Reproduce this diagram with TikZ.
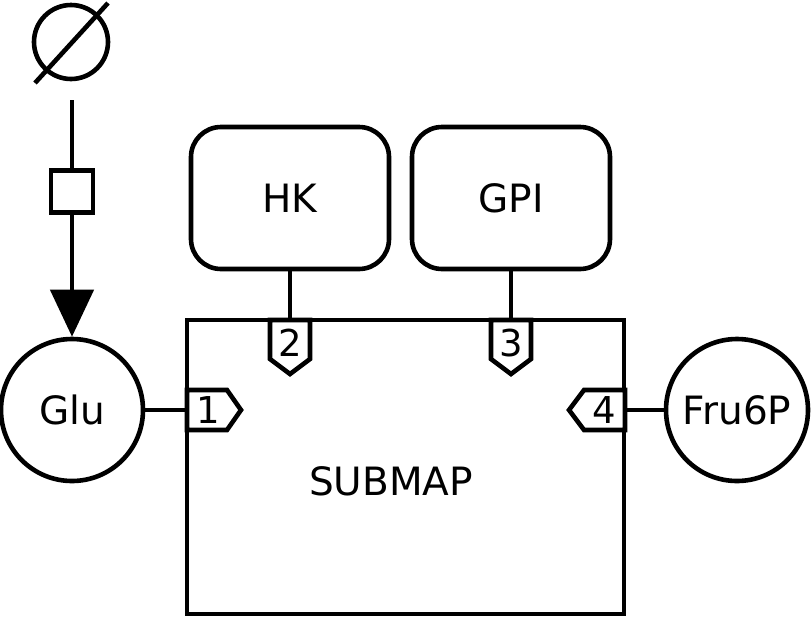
\documentclass[tikz,border=0pt]{standalone}
\usepackage{fontspec}
\setmainfont{DejaVu Sans}
\usetikzlibrary{arrows.meta}
\begin{document}
\begin{tikzpicture}[x=1pt,y=-1pt, line width=4.6pt,
  lbl/.style={font=\fontsize{39}{47}\selectfont},
  species/.style={circle, draw, minimum size=142pt, inner sep=0pt, lbl},
  enzyme/.style={draw, rounded corners=30pt, minimum width=198pt, minimum height=142pt, inner sep=0pt, lbl},
  submapbox/.style={draw, minimum width=437pt, minimum height=294pt, inner sep=0pt},
  procbox/.style={draw, fill=white, minimum size=42pt, inner sep=0pt},
  tagshape/.style={draw, fill=white, line join=miter},
  taglbl/.style={font=\fontsize{37}{44}\selectfont, inner sep=0pt},
  conn/.style={line width=4.6pt}]
\useasboundingbox (0,0) rectangle (811,619);

% SUBMAP
\node[submapbox] (sub) at (405.5,467) {};
\node[lbl] (subtext) at (391,481) {SUBMAP};

% enzymes
\node[enzyme] (hk) at (290,198) {HK};
\node[enzyme] (gpi) at (511,198) {GPI};

% species
\node[species] (glu) at (72,410) {Glu};
\node[species] (fru) at (737,410) {Fru6P};

% empty set source
\node[circle, draw, minimum size=74pt, inner sep=0pt] (src) at (71,42) {};
\coordinate (slashA) at (35,83);
\coordinate (slashB) at (108,3);
\draw (slashA) -- (slashB);

% process
\coordinate (pstart) at (72,100);
\node[procbox] (proc) at (72,191.5) {};
\draw[conn] (pstart) -- (proc.north);
\draw[conn, -{Triangle[width=43pt,length=47pt]}] (proc.south) -- (glu.north);

% tag 1 (west)
\draw[tagshape] (187,390) -- (227,390) -- (241,410) -- (227,430) -- (187,430) -- cycle;
\node[taglbl] (t1) at (208,410) {1};
% tag 2 (north)
\draw[tagshape] (270,320) -- (310,320) -- (310,359) -- (290,374) -- (270,359) -- cycle;
\node[taglbl] (t2) at (290,343) {2};
% tag 3 (north)
\draw[tagshape] (491,320) -- (531,320) -- (531,359) -- (511,374) -- (491,359) -- cycle;
\node[taglbl] (t3) at (511,343) {3};
% tag 4 (east)
\draw[tagshape] (625,390) -- (584,390) -- (569,410) -- (584,430) -- (625,430) -- cycle;
\node[taglbl] (t4) at (604,410) {4};

% tag anchor points on the submap border
\coordinate (p1) at (187,410);
\coordinate (p2) at (290,320);
\coordinate (p3) at (511,320);
\coordinate (p4) at (625,410);

% connectors
\draw[conn] (glu.east) -- (p1);
\draw[conn] (hk.south) -- (p2);
\draw[conn] (gpi.south) -- (p3);
\draw[conn] (fru.west) -- (p4);
\end{tikzpicture}
\end{document}
